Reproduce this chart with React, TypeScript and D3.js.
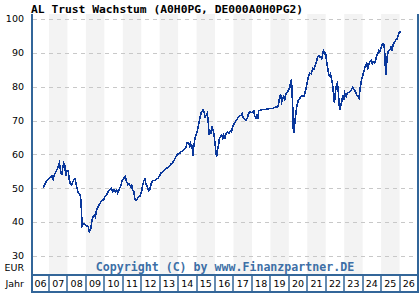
import React from "react";
import * as d3 from "d3";

const title = "AL Trust Wachstum (A0H0PG, DE000A0H0PG2)";
const copyright = "Copyright (C) by www.Finanzpartner.DE";
const years = d3.range(2006, 2027);
const yTicks = [30, 40, 50, 60, 70, 80, 90, 100];

// decimal years
const dates = [
  2006.69, 2006.8, 2006.89, 2007.02, 2007.11, 2007.16, 2007.23, 2007.29, 2007.38, 2007.47,
  2007.53, 2007.56, 2007.6, 2007.63, 2007.69, 2007.74, 2007.8, 2007.85, 2007.88, 2007.92,
  2007.97, 2008.04, 2008.1, 2008.15, 2008.23, 2008.28, 2008.37, 2008.42, 2008.46, 2008.52,
  2008.59, 2008.69, 2008.73, 2008.77, 2008.8, 2008.88, 2008.97, 2009.06, 2009.13, 2009.18,
  2009.24, 2009.27, 2009.33, 2009.4, 2009.45, 2009.51, 2009.58, 2009.65, 2009.72, 2009.82,
  2009.87, 2009.98, 2010.03, 2010.12, 2010.21, 2010.3, 2010.39, 2010.45, 2010.52, 2010.59,
  2010.67, 2010.72, 2010.79, 2010.88, 2010.95, 2011.02, 2011.13, 2011.21, 2011.28, 2011.35,
  2011.42, 2011.48, 2011.53, 2011.6, 2011.66, 2011.75, 2011.83, 2011.93, 2012.02, 2012.07,
  2012.14, 2012.2, 2012.25, 2012.32, 2012.4, 2012.47, 2012.52, 2012.61, 2012.74, 2012.83,
  2012.92, 2013.01, 2013.1, 2013.19, 2013.28, 2013.37, 2013.46, 2013.53, 2013.62, 2013.71,
  2013.81, 2013.89, 2013.98, 2014.08, 2014.16, 2014.26, 2014.35, 2014.43, 2014.49, 2014.56,
  2014.62, 2014.67, 2014.73, 2014.78, 2014.81, 2014.85, 2014.9, 2014.96, 2015.03, 2015.08,
  2015.14, 2015.19, 2015.25, 2015.32, 2015.35, 2015.41, 2015.46, 2015.52, 2015.57, 2015.62,
  2015.68, 2015.73, 2015.79, 2015.84, 2015.9, 2015.95, 2016.03, 2016.08, 2016.13, 2016.19,
  2016.24, 2016.3, 2016.37, 2016.42, 2016.47, 2016.53, 2016.6, 2016.68, 2016.75, 2016.82,
  2016.89, 2016.96, 2017.05, 2017.14, 2017.23, 2017.32, 2017.41, 2017.47, 2017.52, 2017.6,
  2017.67, 2017.74, 2017.81, 2017.87, 2017.95, 2018.05, 2018.1, 2018.15, 2018.21, 2018.26,
  2018.32, 2018.37, 2018.46, 2018.59, 2018.77, 2018.95, 2019.13, 2019.25, 2019.4, 2019.45,
  2019.51, 2019.56, 2019.62, 2019.67, 2019.72, 2019.78, 2019.83, 2019.89, 2019.94, 2019.99,
  2020.05, 2020.1, 2020.14, 2020.17, 2020.21, 2020.24, 2020.28, 2020.33, 2020.39, 2020.44,
  2020.51, 2020.59, 2020.66, 2020.75, 2020.84, 2020.91, 2020.97, 2021.02, 2021.09, 2021.14,
  2021.2, 2021.25, 2021.3, 2021.36, 2021.41, 2021.47, 2021.52, 2021.57, 2021.63, 2021.68,
  2021.74, 2021.79, 2021.85, 2021.88, 2021.93, 2021.99, 2022.04, 2022.09, 2022.15, 2022.2,
  2022.26, 2022.31, 2022.36, 2022.42, 2022.47, 2022.52, 2022.58, 2022.63, 2022.69, 2022.72,
  2022.76, 2022.81, 2022.87, 2022.92, 2022.97, 2023.03, 2023.1, 2023.17, 2023.24, 2023.31,
  2023.38, 2023.46, 2023.53, 2023.6, 2023.67, 2023.74, 2023.8, 2023.85, 2023.91, 2023.96,
  2024.03, 2024.11, 2024.16, 2024.22, 2024.27, 2024.32, 2024.39, 2024.47, 2024.52, 2024.57,
  2024.65, 2024.7, 2024.76, 2024.83, 2024.88, 2024.93, 2024.99, 2025.04, 2025.1, 2025.15,
  2025.19, 2025.22, 2025.26, 2025.29, 2025.33, 2025.38, 2025.43, 2025.49, 2025.54, 2025.59,
  2025.65, 2025.7, 2025.75, 2025.81, 2025.86, 2025.9, 2025.96, 2026.01, 2026.07,
];

const values = [
  50.0, 51.5, 52.3, 53.0, 53.3, 53.7, 52.7, 53.9, 54.9, 55.9,
  56.9, 57.4, 56.4, 54.9, 53.9, 55.9, 57.4, 56.9, 55.4, 53.7,
  55.2, 55.2, 52.5, 51.5, 51.0, 51.7, 52.7, 52.7, 51.5, 50.0,
  48.7, 48.0, 46.5, 42.1, 38.9, 39.5, 39.2, 38.9, 38.7, 37.2,
  37.7, 38.2, 40.6, 41.6, 42.1, 41.6, 43.6, 44.4, 45.1, 46.1,
  46.3, 46.7, 47.5, 48.0, 49.0, 49.7, 50.0, 49.0, 49.5, 49.0,
  49.5, 48.7, 49.5, 50.5, 52.0, 52.7, 53.4, 52.0, 51.0, 51.3,
  50.5, 51.0, 49.5, 49.0, 46.7, 46.5, 47.3, 47.7, 49.0, 50.7,
  52.2, 52.7, 51.5, 50.5, 49.3, 49.7, 51.0, 52.3, 52.3, 52.7,
  53.0, 53.9, 54.7, 54.9, 55.6, 55.9, 56.2, 56.6, 57.2, 57.6,
  58.6, 59.5, 60.1, 60.3, 60.8, 61.1, 61.5, 62.3, 63.5, 63.5,
  62.5, 63.3, 61.8, 62.8, 59.5, 62.5, 64.3, 65.7, 66.7, 68.0,
  69.7, 71.1, 72.3, 72.9, 73.3, 72.6, 71.1, 71.6, 72.1, 70.7,
  65.7, 67.2, 66.2, 68.0, 67.2, 65.7, 61.8, 59.2, 61.3, 62.8,
  64.8, 65.3, 65.7, 64.8, 65.7, 64.5, 66.2, 66.7, 66.2, 66.9,
  66.7, 68.2, 69.2, 70.0, 70.7, 71.4, 71.6, 72.1, 71.0, 70.4,
  70.0, 70.7, 71.9, 72.6, 72.3, 72.6, 72.9, 71.4, 70.7, 71.4,
  70.7, 72.9, 73.1, 73.3, 73.3, 73.6, 73.6, 73.9, 74.1, 75.1,
  77.1, 77.6, 75.6, 76.3, 77.1, 76.3, 77.6, 78.3, 78.6, 79.2,
  79.8, 81.2, 82.2, 79.0, 74.1, 67.7, 66.4, 69.7, 72.6, 74.6,
  75.9, 76.6, 77.1, 77.3, 77.3, 79.0, 80.7, 82.0, 83.5, 84.0,
  83.8, 84.7, 85.4, 85.1, 86.1, 87.1, 87.9, 88.9, 89.1, 88.7,
  88.9, 88.1, 90.3, 90.6, 89.7, 89.9, 87.9, 85.9, 84.0, 83.2,
  83.8, 82.5, 81.0, 78.1, 75.3, 78.1, 80.5, 81.0, 78.1, 75.1,
  73.3, 74.3, 75.6, 77.6, 76.1, 78.1, 77.1, 78.1, 78.3, 78.6,
  79.0, 79.8, 79.2, 78.6, 77.6, 77.1, 76.6, 79.0, 81.0, 82.5,
  83.8, 85.4, 86.4, 86.9, 85.1, 86.4, 87.4, 87.9, 86.9, 87.4,
  86.9, 87.9, 89.1, 89.9, 90.8, 90.3, 91.3, 92.3, 92.8, 92.6,
  90.8, 86.9, 83.5, 85.9, 88.9, 90.3, 90.6, 91.0, 91.8, 91.0,
  92.3, 93.0, 93.3, 94.0, 94.0, 94.8, 95.8, 96.2, 96.2,
];

export default function App() {
  const width = 420;
  const height = 300;
  const left = 32;
  const right = 418;
  const top = 14;
  const bottom = 275;
  const axisBottom = 292;
  const frame = "#336699";

  const x = d3.scaleLinear().domain([2006.08, 2027]).range([left, right]);
  const y = d3.scaleLinear().domain([30, 100]).range([256, 19]);

  const points: [number, number][] = dates.map((d, i) => [d, values[i]]);
  const line = d3
    .line<[number, number]>()
    .x((d) => x(d[0]))
    .y((d) => y(d[1]));

  const cellStart = (yr: number) => Math.max(left, x(yr));

  return (
    <svg
      width={width}
      height={height}
      style={{ position: "absolute", left: 0, top: 0, background: "#fff" }}
    >
      <text
        x={31}
        y={12.5}
        fontFamily="DejaVu Sans Mono"
        fontWeight="bold"
        fontSize={11.3}
        fill="#000"
      >
        {title}
      </text>

      {/* grey bands for odd years */}
      {years
        .filter((yr) => yr % 2 === 1)
        .map((yr) => (
          <rect
            key={yr}
            x={cellStart(yr)}
            y={top}
            width={x(yr + 1) - cellStart(yr)}
            height={bottom - top}
            fill="#f3f3f3"
          />
        ))}

      {/* grid */}
      {yTicks.map((t) => (
        <g key={t}>
          <line
            x1={left + 1}
            x2={right}
            y1={Math.round(y(t)) + 0.5}
            y2={Math.round(y(t)) + 0.5}
            stroke="#c8c8c8"
            strokeDasharray="4,4"
          />
          <text
            x={24}
            y={y(t)}
            dy="0.35em"
            textAnchor="end"
            fontFamily="DejaVu Sans"
            fontSize={9.5}
            fill="#000"
          >
            {t}
          </text>
        </g>
      ))}

      <text
        x={(left + right) / 2}
        y={271}
        textAnchor="middle"
        fontFamily="DejaVu Sans Mono"
        fontWeight="bold"
        fontSize={11.6}
        fill="#3d6fa6"
      >
        {copyright}
      </text>

      <path
        d={line(points) ?? ""}
        fill="none"
        stroke="#0a389c"
        strokeWidth={1.6}
        shapeRendering="crispEdges"
      />

      <text x={24} y={268} dy="0.35em" textAnchor="end" fontFamily="DejaVu Sans" fontSize={9.5}>
        EUR
      </text>
      <text x={24} y={283.5} dy="0.35em" textAnchor="end" fontFamily="DejaVu Sans" fontSize={9.5}>
        Jahr
      </text>

      {/* year cells */}
      {years.map((yr) => (
        <g key={yr}>
          {yr > 2006 && (
            <line
              x1={Math.round(x(yr))}
              x2={Math.round(x(yr))}
              y1={bottom}
              y2={axisBottom}
              stroke={frame}
              strokeWidth={1.5}
            />
          )}
          <text
            x={(cellStart(yr) + x(yr + 1)) / 2}
            y={283.5}
            dy="0.35em"
            textAnchor="middle"
            fontFamily="DejaVu Sans"
            fontSize={9.5}
          >
            {String(yr).slice(2)}
          </text>
        </g>
      ))}

      <line x1={left} x2={left} y1={top} y2={axisBottom + 1} stroke={frame} strokeWidth={2} />
      <line x1={right} x2={right} y1={top} y2={axisBottom + 1} stroke={frame} strokeWidth={2} />
      <line x1={left} x2={right} y1={bottom} y2={bottom} stroke={frame} strokeWidth={2} />
      <line x1={left} x2={right} y1={axisBottom} y2={axisBottom} stroke={frame} strokeWidth={2} />
    </svg>
  );
}
